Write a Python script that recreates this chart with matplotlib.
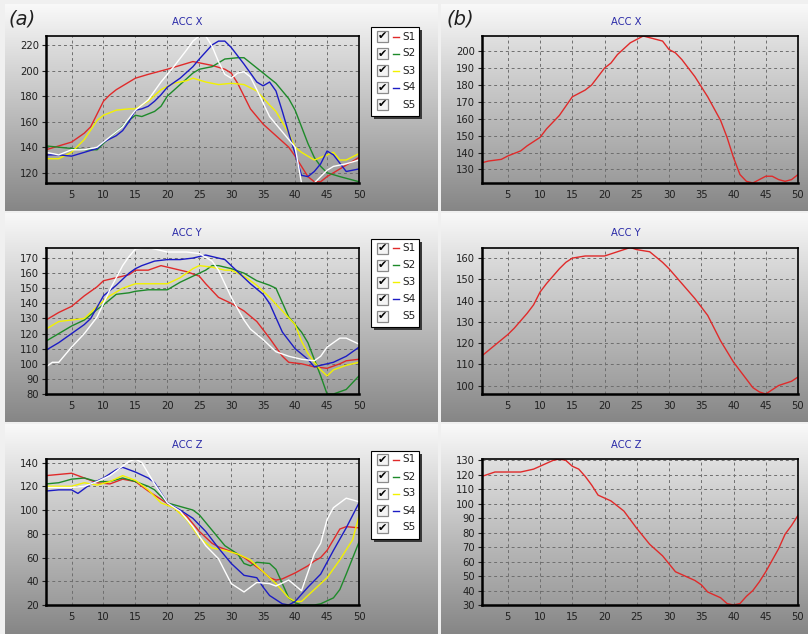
import numpy as np
import matplotlib
matplotlib.use('Agg')
import matplotlib.pyplot as plt
from matplotlib.patches import Rectangle
from matplotlib.lines import Line2D

W, H = 808, 634

# ---- data (x, value) ----
accx_s1 = [(1,138),(3,141),(5,144),(7,151),(8,156),(9,166),(10,176),(11,181),(12,185),(14,191),(15,194),(17,197),(20,201),(22,204),(24,207),(25,206),(27,204),(29,201),(30,198),(31,190),(32,180),(33,170),(35,158),(37,149),(39,140),(40,133),(41,125),(42,117),(43,113),(44,113),(45,117),(47,123),(50,132)]
accx_s2 = [(1,141),(3,140),(5,139),(7,138),(9,138),(10,143),(12,152),(14,161),(15,165),(16,164),(18,168),(19,172),(20,180),(22,189),(24,198),(25,201),(27,203),(29,209),(31,210),(32,210),(34,202),(35,198),(37,190),(39,178),(40,169),(41,156),(42,143),(43,132),(44,125),(45,120),(47,117),(50,113)]
accx_s3 = [(1,131),(3,131),(5,136),(7,146),(9,161),(10,165),(12,169),(14,170),(15,170),(17,176),(19,185),(21,190),(23,192),(24,194),(26,191),(28,189),(30,190),(32,189),(34,184),(36,173),(37,168),(39,151),(40,140),(41,136),(43,130),(45,134),(46,136),(47,130),(48,130),(50,135)]
accx_s4 = [(1,134),(3,134),(5,133),(7,136),(9,139),(10,144),(12,149),(13,153),(14,160),(15,169),(16,170),(17,172),(18,176),(19,181),(20,187),(22,194),(24,203),(25,209),(27,220),(28,223),(29,223),(30,218),(32,205),(34,191),(35,188),(36,191),(37,184),(38,168),(39,151),(40,135),(41,118),(42,117),(43,121),(44,127),(45,137),(46,134),(48,121),(50,123)]
accx_s5 = [(1,136),(3,134),(5,138),(7,138),(9,140),(11,148),(13,156),(15,169),(17,177),(19,191),(21,203),(23,216),(24,223),(25,227),(26,227),(27,219),(28,207),(29,197),(30,194),(31,198),(32,199),(33,195),(34,185),(36,164),(38,152),(40,140),(41,112),(42,112),(43,112),(44,117),(45,122),(46,125),(48,127),(50,130)]

accy_s1 = [(1,129),(3,134),(5,138),(7,145),(9,151),(10,155),(12,157),(14,159),(15,162),(17,162),(19,165),(21,163),(23,161),(25,158),(26,153),(28,144),(30,140),(32,135),(34,128),(36,117),(37,111),(38,105),(39,101),(41,100),(43,98),(45,97),(47,100),(48,102),(50,103)]
accy_s2 = [(1,115),(3,120),(5,125),(7,129),(9,136),(10,139),(12,146),(14,147),(15,148),(17,149),(20,149),(22,154),(24,158),(26,162),(27,165),(28,165),(30,163),(32,160),(34,155),(36,152),(37,150),(39,131),(41,121),(42,114),(43,103),(44,92),(45,80),(46,80),(48,83),(50,92)]
accy_s3 = [(1,123),(3,128),(5,129),(7,130),(9,138),(11,145),(13,150),(15,153),(17,153),(20,153),(22,157),(24,163),(25,165),(27,164),(29,162),(30,162),(32,158),(34,152),(36,144),(38,135),(40,126),(41,115),(42,107),(43,101),(44,96),(45,92),(46,96),(48,99),(50,101)]
accy_s4 = [(1,109),(3,114),(5,120),(7,126),(8,130),(10,145),(12,152),(14,160),(15,163),(16,165),(18,168),(20,169),(22,169),(24,170),(26,172),(27,171),(29,169),(31,161),(33,153),(35,146),(36,140),(38,121),(40,110),(42,103),(43,98),(44,99),(46,101),(48,105),(50,111)]
accy_s5 = [(1,98),(2,101),(3,101),(5,111),(7,120),(9,131),(11,149),(13,165),(14,171),(15,176),(17,177),(20,174),(23,174),(25,173),(27,168),(28,162),(30,144),(32,129),(33,123),(35,116),(37,108),(39,105),(41,103),(43,102),(44,105),(45,111),(47,117),(48,117),(50,113)]

accz_s1 = [(1,129),(3,130),(5,131),(7,127),(9,123),(11,122),(13,126),(15,124),(17,116),(19,109),(21,102),(23,95),(25,82),(27,72),(28,69),(30,65),(32,60),(34,52),(35,48),(36,43),(37,41),(38,42),(40,47),(42,53),(43,57),(44,60),(45,66),(46,75),(47,84),(48,86),(50,85)]
accz_s2 = [(1,122),(3,123),(5,126),(7,127),(9,124),(11,124),(13,127),(15,124),(17,120),(18,117),(20,106),(22,103),(24,100),(25,96),(27,83),(29,70),(31,63),(32,55),(33,53),(34,56),(36,55),(37,50),(38,38),(39,26),(40,22),(41,20),(43,20),(44,21),(46,26),(47,33),(48,46),(50,73)]
accz_s3 = [(1,120),(3,120),(5,120),(7,123),(9,121),(11,124),(13,129),(15,125),(17,117),(19,106),(21,102),(23,92),(25,77),(27,68),(29,66),(31,63),(33,58),(35,48),(37,38),(39,26),(40,23),(41,23),(43,33),(45,43),(47,58),(49,75),(50,95)]
accz_s4 = [(1,116),(3,117),(5,117),(6,114),(8,122),(10,127),(12,134),(13,136),(15,132),(17,127),(18,123),(20,106),(22,100),(24,93),(26,82),(28,68),(30,55),(32,45),(34,43),(35,35),(36,28),(38,21),(39,20),(40,23),(42,35),(44,46),(46,66),(48,85),(50,106)]
accz_s5 = [(1,119),(3,119),(5,119),(7,120),(9,124),(11,129),(13,137),(14,141),(15,143),(16,140),(18,122),(20,106),(22,99),(24,86),(26,70),(28,59),(30,38),(32,31),(34,39),(36,38),(37,36),(39,41),(41,32),(43,63),(44,72),(45,92),(46,102),(48,110),(50,107)]

avg_x = [(1,134),(2,135),(4,136),(5,138),(7,141),(8,144),(10,149),(11,154),(13,162),(15,173),(17,177),(18,180),(20,190),(21,193),(22,198),(24,205),(25,207),(26,209),(27,208),(29,206),(30,201),(31,199),(32,195),(34,185),(36,173),(37,166),(38,159),(39,149),(40,137),(41,127),(42,123),(43,122),(44,124),(45,126),(46,126),(47,124),(48,123),(49,124),(50,127)]
avg_y = [(1,114),(3,119),(5,124),(6,127),(8,134),(9,138),(10,144),(11,148),(13,155),(14,158),(15,160),(17,161),(20,161),(22,163),(24,165),(25,164),(27,163),(29,158),(30,155),(32,148),(34,141),(35,137),(36,133),(38,121),(40,111),(42,103),(43,99),(44,97),(45,96),(46,98),(47,100),(49,102),(50,104)]
avg_z = [(1,119),(3,122),(5,122),(7,122),(8,123),(9,124),(11,128),(12,130),(13,131),(14,130),(15,126),(16,124),(17,119),(18,113),(19,106),(21,102),(23,95),(25,83),(27,72),(29,64),(31,53),(32,51),(33,49),(34,47),(35,44),(36,39),(38,35),(39,31),(40,30),(41,31),(42,36),(43,40),(44,46),(45,53),(46,61),(47,69),(48,79),(49,85),(50,92)]

names = ['S1', 'S2', 'S3', 'S4', 'S5']
colors = ['#e02a2a', '#1e8a2a', '#f2f200', '#1c1cc4', '#ffffff']
titles = ['ACC X', 'ACC Y', 'ACC Z']
left_ticks = [range(120, 221, 20), range(80, 171, 10), range(20, 141, 20)]
right_ticks = [range(130, 201, 10), range(100, 161, 10), range(30, 131, 10)]

fig = plt.figure(figsize=(W / 100, H / 100), dpi=100, facecolor='#f0f0f0')


def box(x0, y0, x1, y1):
    # pixel rectangle (top-left origin) -> figure fraction
    return [x0 / W, 1 - y1 / H, (x1 - x0) / W, (y1 - y0) / H]


def gradient(rect, top, bottom, z):
    a = fig.add_axes(rect, zorder=z)
    g = np.linspace(top, bottom, 256)[:, None, None] * np.ones((1, 1, 3)) / 255
    a.imshow(g, aspect='auto', extent=[0, 1, 0, 1], interpolation='bilinear')
    a.set_axis_off()


def draw_plot(rect_px, series, cols, yticks):
    gradient(box(*rect_px), 224, 156, 1)
    ax = fig.add_axes(box(*rect_px), zorder=2)
    ax.patch.set_alpha(0)
    lo, hi = 1e9, -1e9
    for pts, c in zip(series, cols):
        xs, ys = zip(*pts)
        ax.plot(xs, ys, color=c, lw=1.0)
        lo, hi = min(lo, min(ys)), max(hi, max(ys))
    ax.set_xlim(1, 50)
    ax.set_ylim(lo, hi)
    ax.set_xticks(range(5, 51, 5))
    ax.set_yticks(list(yticks))
    ax.grid(True, color='#6e6e6e', ls=(0, (3, 3)), lw=0.7)
    ax.set_axisbelow(True)
    for s in ['left', 'bottom']:
        ax.spines[s].set_linewidth(1.8)
    for s in ['top', 'right']:
        ax.spines[s].set_linewidth(1.2)
    ax.tick_params(axis='y', length=3, width=0.8, pad=2, labelsize=7.2, colors='#202020')
    ax.tick_params(axis='x', length=0, pad=5, labelsize=7.2, colors='#202020')
    return ax


def fig_rect(x0, y0, w, h, **kw):
    fig.add_artist(Rectangle((x0 / W, 1 - (y0 + h) / H), w / W, h / H,
                             transform=fig.transFigure, zorder=5, **kw))


def draw_legend(top):
    fig_rect(374, top + 3, 48, 88, facecolor='#3a3a3a', edgecolor='none')
    fig_rect(371, top, 48, 88, facecolor='white', edgecolor='black', lw=0.8)
    for i, (n, c) in enumerate(zip(names, colors)):
        y = top + 9 + 17 * i
        fig_rect(376.5, y - 5.5, 11, 11, facecolor='#f4f4f4', edgecolor='#8a8a8a', lw=0.9)
        fig.text(382 / W, 1 - y / H, '\u2714', ha='center', va='center',
                 fontsize=8, fontweight='bold', color='black', zorder=6)
        fig.add_artist(Line2D([393 / W, 399 / W], [1 - y / H, 1 - y / H], color=c,
                              lw=1.0, transform=fig.transFigure, zorder=6))
        fig.text(402 / W, 1 - y / H, n, ha='left', va='center', fontsize=7.5,
                 color='#202020', zorder=6)


# panel backgrounds
rows = [(4, 211), (213, 422), (424, 634)]
for (ya, yb) in rows:
    gradient(box(5, ya, 437, yb), 249, 134, 0)
    gradient(box(441, ya, 808, yb), 249, 134, 0)

plot_rows = [(36, 183), (247.5, 394), (459, 605)]
left_data = [[accx_s1, accx_s2, accx_s3, accx_s4, accx_s5],
             [accy_s1, accy_s2, accy_s3, accy_s4, accy_s5],
             [accz_s1, accz_s2, accz_s3, accz_s4, accz_s5]]
right_data = [avg_x, avg_y, avg_z]

for r, (ya, yb) in enumerate(plot_rows):
    draw_plot((46, ya, 359, yb), left_data[r], colors, left_ticks[r])
    draw_plot((482, ya, 798, yb), [right_data[r]], ['#e02a2a'], right_ticks[r])
    ty = [22, 233, 445][r]
    fig.text(187 / W, 1 - ty / H, titles[r], ha='center', va='center',
             fontsize=7.2, color='#2a2aa8')
    fig.text(626 / W, 1 - ty / H, titles[r], ha='center', va='center',
             fontsize=7.2, color='#2a2aa8')
    draw_legend(ya - 8.5)

fig.text(8 / W, 1 - 19 / H, '(a)', ha='left', va='center', fontsize=14,
         style='italic', color='#202020')
fig.text(446 / W, 1 - 19 / H, '(b)', ha='left', va='center', fontsize=14,
         style='italic', color='#202020')

fig.savefig('out.png', dpi=100, facecolor=fig.get_facecolor())
